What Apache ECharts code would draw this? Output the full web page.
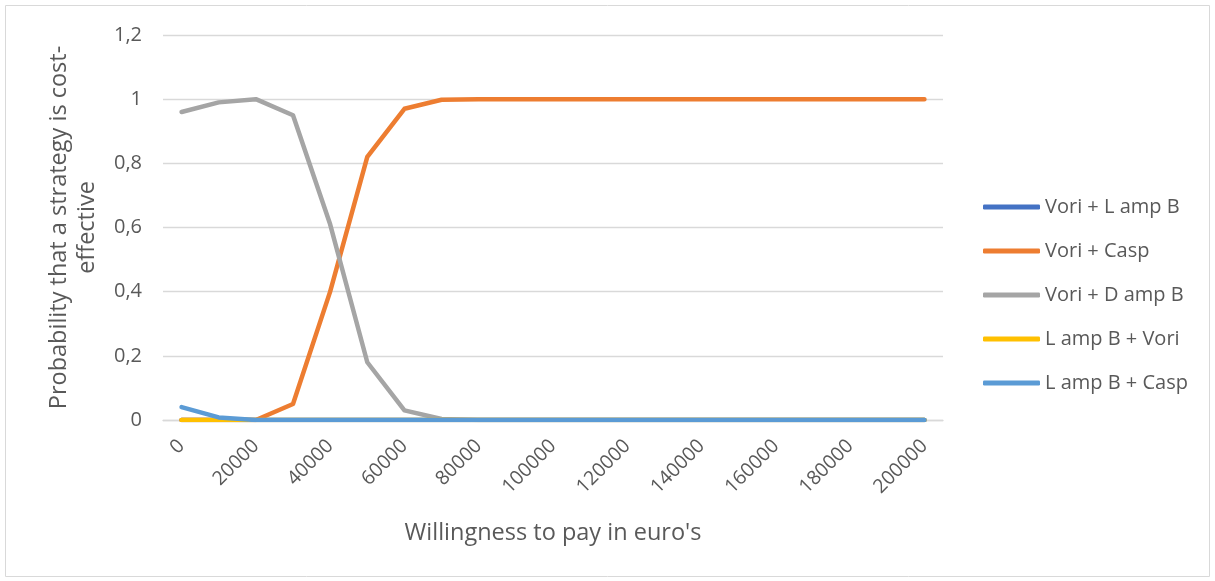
<!DOCTYPE html>
<html>
<head>
<meta charset="utf-8">
<script src="https://cdn.jsdelivr.net/npm/echarts@6/dist/echarts.min.js"></script>
<style>
  html, body { margin: 0; padding: 0; background: #fff; }
  #chart { width: 1215px; height: 581px; }
</style>
</head>
<body>
<div id="chart"></div>
<script>
// Willingness-to-pay thresholds (euro)
const categories = ['0','10000','20000','30000','40000','50000','60000','70000','80000','90000','100000',
  '110000','120000','130000','140000','150000','160000','170000','180000','190000','200000'];

// Probability that each strategy is cost-effective
const voriLampB   = [0,0,0,0,0,0,0,0,0,0,0,0,0,0,0,0,0,0,0,0,0];
const voriCasp    = [0,0,0,0.05,0.40,0.82,0.97,0.998,1,1,1,1,1,1,1,1,1,1,1,1,1];
const voriDampB   = [0.96,0.99,1.0,0.95,0.61,0.18,0.03,0.003,0,0,0,0,0,0,0,0,0,0,0,0,0];
const lampBVori   = [0,0,0,0,0,0,0,0,0,0,0,0,0,0,0,0,0,0,0,0,0];
const lampBCasp   = [0.04,0.008,0,0,0,0,0,0,0,0,0,0,0,0,0,0,0,0,0,0,0];

const seriesNames = ['Vori + L amp B','Vori + Casp','Vori + D amp B','L amp B + Vori','L amp B + Casp'];
const seriesData  = [voriLampB, voriCasp, voriDampB, lampBVori, lampBCasp];
const colors      = ['#4472C4','#ED7D31','#A5A5A5','#FFC000','#5B9BD5'];

const yTicks = [0, 0.2, 0.4, 0.6, 0.8, 1, 1.2];
const font = '"Open Sans", "DejaVu Sans", sans-serif';

const chart = echarts.init(document.getElementById('chart'));
chart.setOption({
  animation: false,
  color: colors,
  textStyle: { fontFamily: font },
  graphic: [{
    type: 'rect',
    shape: { x: 5.5, y: 5.5, width: 1204, height: 571 },
    style: { fill: 'none', stroke: '#D9D9D9', lineWidth: 1 },
    silent: true
  }],
  grid: { left: 163, right: 272, top: 35, bottom: 161 },
  legend: {
    orient: 'vertical',
    left: 978,
    top: 188,
    itemWidth: 57,
    itemHeight: 5,
    itemGap: 16,
    icon: 'roundRect',
    textStyle: { fontSize: 20, lineHeight: 28, color: '#595959', fontFamily: font },
    data: seriesNames
  },
  xAxis: {
    type: 'category',
    data: categories,
    boundaryGap: true,
    name: "Willingness to pay in euro's",
    nameLocation: 'middle',
    nameGap: 101,
    nameTextStyle: { fontSize: 23.5, color: '#595959' },
    axisLine: { show: true, lineStyle: { color: '#D9D9D9', width: 1.3 } },
    axisTick: { show: false },
    axisLabel: {
      interval: 1,
      rotate: 45,
      fontSize: 19.5,
      color: '#595959',
      margin: 23
    },
    splitLine: { show: false }
  },
  yAxis: {
    type: 'value',
    min: 0,
    max: 1.2,
    interval: 0.2,
    name: 'Probability that a strategy is cost-\neffective',
    nameLocation: 'middle',
    nameGap: 62,
    nameTextStyle: { fontSize: 23.5, color: '#595959', lineHeight: 28 },
    axisLine: { show: false },
    axisTick: { show: false },
    axisLabel: {
      fontSize: 20,
      color: '#595959',
      margin: 21,
      formatter: v => {
        const t = yTicks.find(k => Math.abs(k - v) < 1e-9);
        return String(t !== undefined ? +t.toFixed(1) : v).replace('.', ',');
      }
    },
    splitLine: { lineStyle: { color: '#D9D9D9', width: 1.3 } }
  },
  series: seriesNames.map((name, i) => ({
    name,
    type: 'line',
    data: seriesData[i],
    symbol: 'none',
    lineStyle: { width: 4.5, cap: 'round', join: 'round' },
    z: 2 + i
  }))
});
</script>
</body>
</html>
